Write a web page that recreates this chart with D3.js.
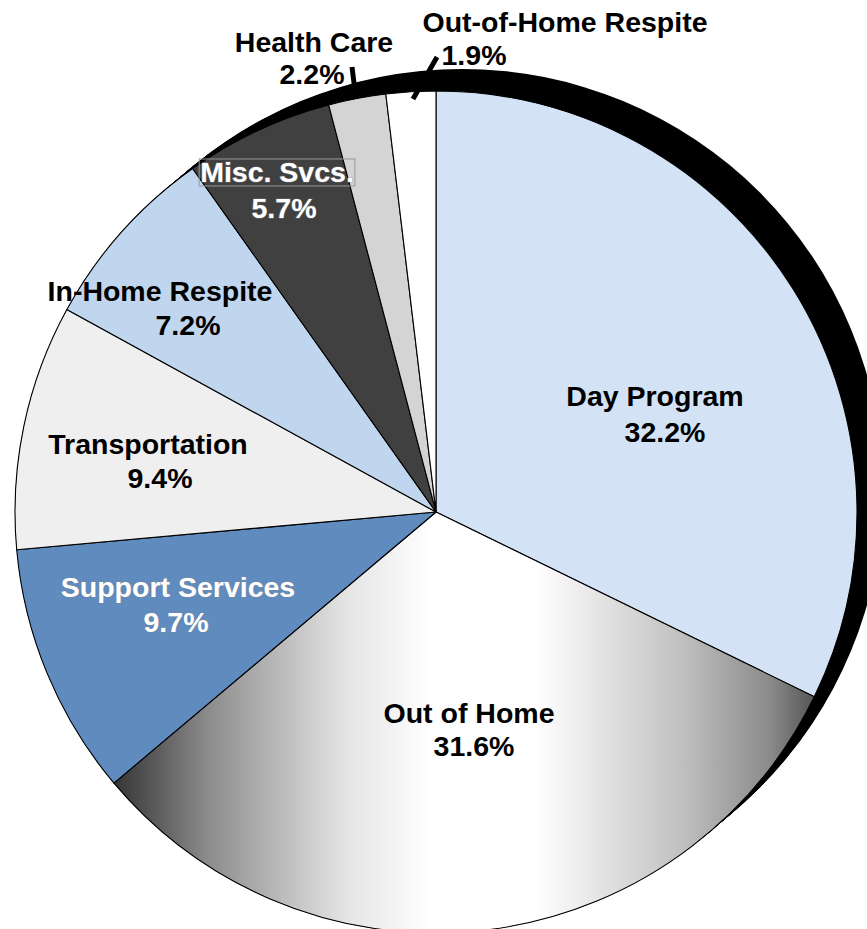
<!DOCTYPE html>
<html><head><meta charset="utf-8">
<script src="https://cdn.jsdelivr.net/npm/d3@7"></script>
<style>html,body{margin:0;padding:0;background:#fff;}svg{display:block;}</style>
</head><body>
<script>
const categories = ["Day Program","Out of Home","Support Services","Transportation","In-Home Respite","Misc. Svcs.","Health Care","Out-of-Home Respite"];
const values = [32.2,31.6,9.7,9.4,7.2,5.7,2.2,1.9];
const valueLabels = ["32.2%","31.6%","9.7%","9.4%","7.2%","5.7%","2.2%","1.9%"];

// styling / layout (not data)
const fills = ["#d3e3f5","url(#ohGrad)","#5f8bbf","#efefef","#c0d6ee","#404040","#d4d4d4","#ffffff"];
const textColors = ["#000","#000","#fff","#000","#000","#fff","#000","#000"];
const labelPos = [
  {n:[655,396], v:[665,432]},
  {n:[469,713], v:[474,746]},
  {n:[178,587], v:[176,622]},
  {n:[148,444], v:[160,478]},
  {n:[160,291], v:[188,325]},
  {n:[277,172], v:[284,208]},
  {n:[314,42],  v:[312,74]},
  {n:[565,22],  v:[474,55]}
];

const W=867,H=929, cx=436, cy=512, R=421, depthX=26, depthY=-22;
const svg=d3.select("body").append("svg").attr("width",W).attr("height",H);
const defs=svg.append("defs");
const g1=defs.append("linearGradient").attr("id","ohGrad").attr("gradientUnits","userSpaceOnUse")
  .attr("x1",112-cx).attr("y1",0).attr("x2",820-cx).attr("y2",0);
[[0,"#333333"],[0.14,"#8e8e8e"],[0.33,"#e4e4e4"],[0.45,"#ffffff"],[0.6,"#ffffff"],[0.8,"#c2c2c2"],[0.93,"#8a8a8a"],[1,"#4e4e4e"]]
  .forEach(s=>g1.append("stop").attr("offset",s[0]).attr("stop-color",s[1]));

// depth (extrusion) in black
const depth=svg.append("g");
const steps=d3.range(0,27);
depth.selectAll("circle").data(steps).join("circle")
  .attr("cx",d=>cx+depthX*d/26).attr("cy",d=>cy+depthY*d/26).attr("r",R).attr("fill","#000");

const pie=d3.pie().sort(null).value(d=>d)(values);
const arc=d3.arc().innerRadius(0).outerRadius(R);
const gp=svg.append("g").attr("transform",`translate(${cx},${cy})`);
gp.selectAll("path").data(pie).join("path")
  .attr("d",arc).attr("fill",(d,i)=>fills[i])
  .attr("stroke","#000").attr("stroke-width",1.1).attr("stroke-linejoin","round");

// leader lines for the two smallest slices
const leaders=[[[352,67],[356,99]],[[437,57],[413,99]]];
svg.selectAll("line.ld").data(leaders).join("line").attr("class","ld")
  .attr("x1",d=>d[0][0]).attr("y1",d=>d[0][1]).attr("x2",d=>d[1][0]).attr("y2",d=>d[1][1])
  .attr("stroke","#000").attr("stroke-width",5);

const fontFam="'Liberation Sans', Arial, sans-serif";
const fs=28.5;
const lab=svg.append("g").attr("font-family",fontFam).attr("font-weight","bold").attr("font-size",fs)
  .attr("text-anchor","middle");
categories.forEach((c,i)=>{
  const col=textColors[i];
  const t1=lab.append("text").attr("x",labelPos[i].n[0]).attr("y",labelPos[i].n[1]).attr("dy","0.35em")
    .attr("fill",col).text(c);
  const t2=lab.append("text").attr("x",labelPos[i].v[0]).attr("y",labelPos[i].v[1]).attr("dy","0.35em")
    .attr("fill",col).text(valueLabels[i]);
  if(col==="#fff"){
    [t1,t2].forEach(t=>t.attr("stroke","#888").attr("stroke-width",1.2).attr("paint-order","stroke").attr("stroke-opacity",0.6));
  }
  if(c==="Misc. Svcs."){
    const bb=t1.node().getBBox();
    lab.insert("rect","text").attr("x",bb.x-1).attr("y",bb.y+3).attr("width",bb.width+2).attr("height",bb.height-5)
      .attr("fill","none").attr("stroke","#999").attr("stroke-width",1);
  }
});
</script>
</body></html>
